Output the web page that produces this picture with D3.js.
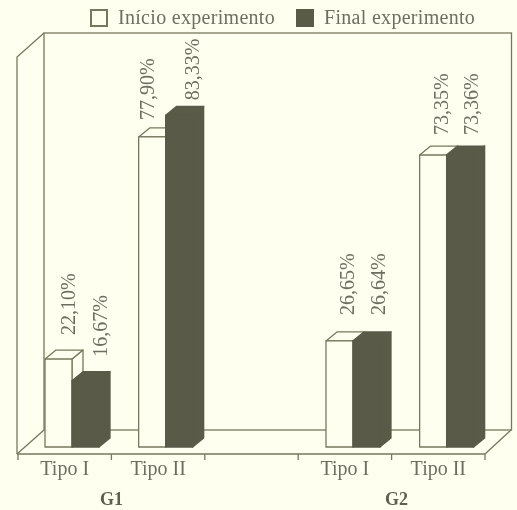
<!DOCTYPE html>
<html>
<head>
<meta charset="utf-8">
<script src="https://cdn.jsdelivr.net/npm/d3@7"></script>
<style>
  html, body { margin: 0; padding: 0; background: #fffff0; }
  svg { display: block; filter: blur(0.45px); }
</style>
</head>
<body>
<script>
// Dados do gráfico
const tipos = ["Tipo I", "Tipo II", "", "Tipo I", "Tipo II"];
const grupos = ["G1", "G2"];
const legenda = ["Início experimento", "Final experimento"];
const inicio = [22.10, 77.90, null, 26.65, 73.35];
const final = [16.67, 83.33, null, 26.64, 73.36];

const width = 517, height = 510;
const fundo = "#fffff0", escuro = "#5a5a48", linha = "#77775f", texto = "#6e6e60";
const serif = "'Liberation Serif', serif";
const prof = {x: 11, y: 9};         // profundidade das barras
const parede = {x: 26, y: 24};      // profundidade da caixa
const base = 454, topo = 57, esq = 18, dir = 485;

const svg = d3.select("body").append("svg")
  .attr("width", width).attr("height", height)
  .attr("viewBox", [0, 0, width, height])
  .style("font-family", serif);

const idx = d3.range(tipos.length);
const xEixo = d3.scaleBand().domain(idx).range([esq, dir]);
const xBarra = d3.scaleBand().domain(idx).range([45, 513.3]);
const y = d3.scaleLinear().domain([0, 100]).range([447, 49]);
const larg = 27;

// Caixa (paredes e chão)
const caixa = svg.append("g").attr("fill", "none").attr("stroke", linha).attr("stroke-width", 1.3);
caixa.append("rect")
  .attr("x", esq + parede.x).attr("y", topo - parede.y)
  .attr("width", dir - esq + 0.5).attr("height", base - topo);
caixa.append("path").attr("d", d3.line()([
  [esq - 1, base], [esq - 1, topo], [esq + parede.x, topo - parede.y]
]));
caixa.append("path").attr("d", d3.line()([
  [esq - 1, base], [esq + parede.x, base - parede.y]
]));
caixa.append("path").attr("d", d3.line()([
  [dir, base], [dir + parede.x, base - parede.y]
]));

function barra3d(g, x0, valor, preenche) {
  const yt = y(valor), yb = y(0), x1 = x0 + larg;
  const poly = pts => g.append("path").attr("d", d3.line()(pts) + "Z")
    .attr("fill", preenche).attr("stroke", preenche === escuro ? escuro : linha)
    .attr("stroke-width", 1.3).attr("stroke-linejoin", "round");
  poly([[x1, yb], [x1, yt], [x1 + prof.x, yt - prof.y], [x1 + prof.x, yb - prof.y]]);
  poly([[x0, yt], [x1, yt], [x1 + prof.x, yt - prof.y], [x0 + prof.x, yt - prof.y]]);
  poly([[x0, yb], [x1, yb], [x1, yt], [x0, yt]]);
}

// Barras
const barras = svg.append("g");
idx.filter(i => inicio[i] != null).forEach(i => {
  barra3d(barras, xBarra(i), inicio[i], fundo);
  barra3d(barras, xBarra(i) + larg, final[i], escuro);
});

// Rótulos de valor (na figura original foram colocados à mão)
const fmt = v => v.toFixed(2).replace(".", ",") + "%";
const dxInicio = {0: 23, 1: 8, 3: 21, 4: 21};
const dxFinal = {0: 28, 1: 26, 3: 25, 4: 24};
const dyInicio = {0: 24, 1: 17, 3: 26, 4: 20};
const dyFinal = {0: 24, 1: 15, 3: 26, 4: 20};
const rotulo = (x, yb, t) => svg.append("text")
  .attr("transform", `translate(${x},${yb}) rotate(-90)`)
  .attr("font-size", 20).attr("fill", texto)
  .attr("dy", "0.35em").text(t);
idx.filter(i => inicio[i] != null).forEach(i => {
  const x0 = xBarra(i);
  rotulo(x0 + dxInicio[i], y(inicio[i]) - dyInicio[i], fmt(inicio[i]));
  rotulo(x0 + larg + dxFinal[i], y(final[i]) - dyFinal[i], fmt(final[i]));
});

// Eixo
const eixo = svg.append("g").attr("transform", `translate(0,${base})`)
  .call(d3.axisBottom(xEixo).tickSize(0).tickPadding(7).tickFormat(i => tipos[i]));
eixo.select(".domain").remove();
eixo.selectAll("text")
  .attr("font-family", serif).attr("font-size", 20).attr("fill", texto);
svg.append("line").attr("x1", esq - 1).attr("x2", dir).attr("y1", base).attr("y2", base)
  .attr("stroke", linha).attr("stroke-width", 1.3);
svg.append("g").selectAll("line")
  .data(xEixo.domain().map(xEixo).concat(dir))
  .join("line")
  .attr("x1", d => d).attr("x2", d => d)
  .attr("y1", base).attr("y2", base + 6)
  .attr("stroke", linha).attr("stroke-width", 1.3);

// Grupos
svg.append("g").selectAll("text")
  .data(grupos)
  .join("text")
  .attr("x", (d, i) => (i === 0 ? xEixo(0) : xEixo(3)) + xEixo.bandwidth() + (i === 0 ? 0 : 5))
  .attr("y", 505)
  .attr("text-anchor", "middle")
  .attr("font-size", 18).attr("font-weight", "bold").attr("fill", "#5f5f50")
  .text(d => d);

// Legenda
const legX = [90, 296];
legenda.forEach((t, i) => {
  svg.append("rect")
    .attr("x", legX[i] + 1).attr("y", 10).attr("width", 16).attr("height", 16)
    .attr("fill", i === 0 ? fundo : escuro)
    .attr("stroke", i === 0 ? linha : escuro).attr("stroke-width", 2);
  svg.append("text")
    .attr("x", legX[i] + 28).attr("y", 24)
    .attr("font-size", 20).attr("fill", texto).attr("letter-spacing", 0.3)
    .text(t);
});
</script>
</body>
</html>
